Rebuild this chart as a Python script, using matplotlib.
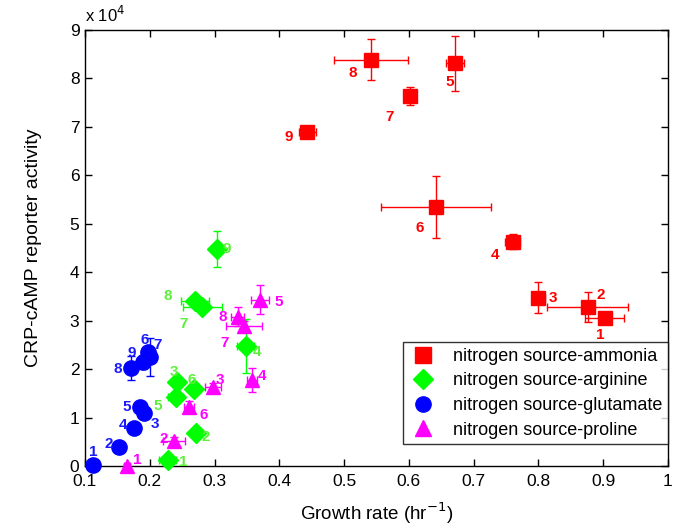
import matplotlib
matplotlib.use("Agg")
import matplotlib.pyplot as plt
from matplotlib.lines import Line2D

plt.rcParams['font.family'] = ['Liberation Sans', 'DejaVu Sans']

# ---------------- data (y in units of 1e4) ----------------
amm_x = [0.902, 0.876, 0.800, 0.760, 0.671, 0.642, 0.601, 0.541, 0.443]
amm_y = [3.06, 3.29, 3.47, 4.63, 8.31, 5.35, 7.64, 8.39, 6.90]
amm_xe = [0.030, 0.063, 0.010, 0.012, 0.014, 0.085, 0.009, 0.057, 0.013]
amm_ye = [0.08, 0.31, 0.32, 0.16, 0.56, 0.64, 0.19, 0.42, 0.10]

arg_x = [0.228, 0.271, 0.242, 0.348, 0.240, 0.268, 0.281, 0.270, 0.304]
arg_y = [0.12, 0.68, 1.74, 2.48, 1.43, 1.59, 3.29, 3.41, 4.48]
arg_xe = [0.013, 0.005, 0.005, 0.013, 0.012, 0.005, 0.030, 0.022, 0.005]
arg_ye = [0.05, 0.05, 0.10, 0.56, 0.10, 0.10, 0.10, 0.10, 0.38]

glu_x = [0.112, 0.152, 0.191, 0.176, 0.185, 0.197, 0.200, 0.171, 0.190]
glu_y = [0.02, 0.40, 1.10, 0.78, 1.22, 2.35, 2.25, 2.02, 2.15]
glu_xe = [0.003, 0.004, 0.004, 0.008, 0.004, 0.004, 0.004, 0.004, 0.004]
glu_ye = [0.05, 0.05, 0.05, 0.05, 0.12, 0.10, 0.40, 0.25, 0.15]

pro_x = [0.165, 0.237, 0.298, 0.358, 0.370, 0.261, 0.345, 0.336]
pro_y = [0.00, 0.52, 1.64, 1.78, 3.43, 1.22, 2.89, 3.08]
pro_xe = [0.005, 0.017, 0.012, 0.008, 0.014, 0.008, 0.028, 0.010]
pro_ye = [0.05, 0.08, 0.08, 0.25, 0.30, 0.12, 0.10, 0.20]

point_labels = ['1', '2', '3', '4', '5', '6', '7', '8', '9']
series_names = ['nitrogen source-ammonia', 'nitrogen source-arginine',
                'nitrogen source-glutamate', 'nitrogen source-proline']

x_ticks = [0.1, 0.2, 0.3, 0.4, 0.5, 0.6, 0.7, 0.8, 0.9, 1.0]
x_ticklabels = ['0.1', '0.2', '0.3', '0.4', '0.5', '0.6', '0.7', '0.8', '0.9', '1']
y_ticks = [0, 1, 2, 3, 4, 5, 6, 7, 8, 9]

# label offsets in pixels (dx right, dy down) -- layout only
amm_off = [(-4, 17), (13, -12), (14, 0), (-18, 13), (-5, 19), (-16, 21), (-20, 21), (-18, 13), (-18, 5)]
arg_off = [(15, 2), (10, 4), (-3, -10), (11, 6), (-18, 9), (-2, -9), (-19, 17), (-27, -5), (10, 0)]
glu_off = [(0, -13), (-10, -3), (11, 11), (-11, -3), (-13, 0), (-3, -12), (8, -12), (-13, 1), (-12, -9)]
pro_off = [(10, -6), (-10, -2), (7, -7), (10, -4), (19, 2), (14, 8), (-19, 17), (-15, 0)]

fig = plt.figure(figsize=(6.75, 5.3), dpi=100)
ax = fig.add_axes([85 / 675, 1 - 466 / 530, (668 - 85) / 675, (466 - 30) / 530])

series = [
    (amm_x, amm_y, amm_xe, amm_ye, 's', '#ff0000', '#ff0000', 9.5, amm_off),
    (arg_x, arg_y, arg_xe, arg_ye, 'D', '#00ff00', '#5cf03a', 10, arg_off),
    (glu_x, glu_y, glu_xe, glu_ye, 'o', '#0000ff', '#1a1aff', 11, glu_off),
    (pro_x, pro_y, pro_xe, pro_ye, '^', '#ff00ff', '#ff00ff', 10.5, pro_off),
]

for (xs, ys, xe, ye, mk, col, lcol, ms, offs) in series:
    ax.errorbar(xs, ys, xerr=xe, yerr=ye, fmt=mk, color=col,
                mfc=col, mec=col, ms=ms, elinewidth=1.0, capsize=3, capthick=1.0,
                zorder=3, clip_on=False)
    for i in range(len(xs)):
        dx, dy = offs[i]
        ax.annotate(point_labels[i], (xs[i], ys[i]), xytext=(dx, -dy),
                    textcoords='offset pixels', ha='center', va='center',
                    color=lcol, fontsize=11, fontweight='bold', zorder=6,
                    annotation_clip=False)

ax.set_xlim(0.1, 1.0)
ax.set_ylim(0, 9)
ax.set_xticks(x_ticks)
ax.set_xticklabels(x_ticklabels)
ax.set_yticks(y_ticks)
ax.tick_params(direction='in', top=True, right=True, length=5, width=1,
               labelsize=12.5)
ax.tick_params(axis='x', pad=6)
ax.tick_params(axis='y', pad=4)
for s in ax.spines.values():
    s.set_linewidth(1.0)

ax.text(0.0, 1.012, 'x 10$^4$', transform=ax.transAxes, fontsize=12,
        ha='left', va='bottom')
ax.set_xlabel('Growth rate (hr$^{-1}$)', fontsize=13.5, labelpad=8)
ax.set_ylabel('CRP-cAMP reporter activity', fontsize=14, labelpad=20)

handles = [
    Line2D([], [], marker='s', color='#ff0000', ls='none', ms=11),
    Line2D([], [], marker='D', color='#00ff00', ls='none', ms=10),
    Line2D([], [], marker='o', color='#0000ff', ls='none', ms=11),
    Line2D([], [], marker='^', color='#ff00ff', ls='none', ms=11),
]
leg = ax.legend(handles, series_names, loc='lower right',
                bbox_to_anchor=(1.0, (466 - 444) / 436), fontsize=13,
                frameon=True, fancybox=False, edgecolor='black',
                handlelength=1.6, handletextpad=0.9, borderpad=0.3,
                labelspacing=0.42, borderaxespad=0.0)
leg.get_frame().set_linewidth(1.0)
leg.set_zorder(5)

fig.savefig('out.png', dpi=100)
